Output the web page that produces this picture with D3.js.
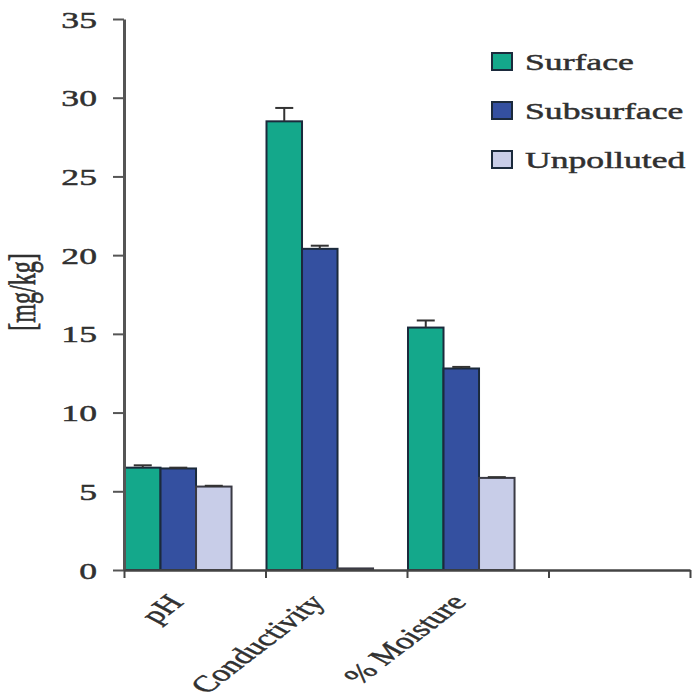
<!DOCTYPE html>
<html>
<head>
<meta charset="utf-8">
<script src="https://cdn.jsdelivr.net/npm/d3@7/dist/d3.min.js"></script>
<style>
  html, body { margin: 0; padding: 0; background: #fff; }
  svg { display: block; }
  text { font-family: "Liberation Serif", "Times New Roman", serif; fill: #303030; stroke: #303030; stroke-width: 0.45px; }
</style>
</head>
<body>
<svg id="chart" width="696" height="697"></svg>
<script>
// Soil parameters by sampling site
const categories = ["pH", "Conductivity", "% Moisture", ""];
const seriesNames = ["Surface", "Subsurface", "Unpolluted"];
const surface = [6.5, 28.5, 15.4, null];
const subsurface = [6.45, 20.4, 12.8, null];
const unpolluted = [5.3, 0.1, 5.85, null];
const surfaceErr = [0.15, 0.85, 0.45, null];
const subsurfaceErr = [0.05, 0.2, 0.1, null];
const unpollutedErr = [0.05, 0.02, 0.05, null];
const yTicks = [0, 5, 10, 15, 20, 25, 30, 35];
const yLabel = "[mg/kg]";

const colors = ["#14a88b", "#3450a0", "#c8cde8"];
const values = [surface, subsurface, unpolluted];
const errors = [surfaceErr, subsurfaceErr, unpollutedErr];

const svg = d3.select("#chart");
const stretch = 1.55;          // wide lettering
const plotLeft = 124, plotRight = 690, plotTop = 19, plotBottom = 570;

const y = d3.scaleLinear().domain([0, 35]).range([plotBottom, plotTop]);
const x = d3.scaleBand().domain(categories).range([plotLeft, plotRight]).padding(0);
const xs = d3.scaleBand().domain(seriesNames)
  .range([1, x.bandwidth() * 0.76]).padding(0);
const edge = d3.scaleLinear().domain([0, categories.length]).range([plotLeft, plotRight]);

// bars
const rows = [];
categories.forEach((c, i) => {
  seriesNames.forEach((s, j) => {
    if (values[j][i] != null) rows.push({ c, s, j, v: values[j][i], e: errors[j][i] });
  });
});

const g = svg.append("g");
g.selectAll("rect.bar").data(rows).join("rect")
  .attr("class", "bar")
  .attr("x", d => x(d.c) + xs(d.s))
  .attr("y", d => y(d.v))
  .attr("width", xs.bandwidth())
  .attr("height", d => y(0) - y(d.v))
  .attr("fill", d => colors[d.j])
  .attr("stroke", d => d.j === 2 ? "#3a3a44" : "#1b2a3c")
  .attr("stroke-width", 2);

// error bars
const eb = g.selectAll("g.err").data(rows.filter(d => d.e > 0.04)).join("g").attr("class", "err");
eb.append("line")
  .attr("x1", d => x(d.c) + xs(d.s) + xs.bandwidth() / 2)
  .attr("x2", d => x(d.c) + xs(d.s) + xs.bandwidth() / 2)
  .attr("y1", d => y(d.v))
  .attr("y2", d => y(d.v + d.e))
  .attr("stroke", "#333").attr("stroke-width", 2);
eb.append("line")
  .attr("x1", d => x(d.c) + xs(d.s) + xs.bandwidth() / 2 - 9)
  .attr("x2", d => x(d.c) + xs(d.s) + xs.bandwidth() / 2 + 9)
  .attr("y1", d => y(d.v + d.e))
  .attr("y2", d => y(d.v + d.e))
  .attr("stroke", "#333").attr("stroke-width", 2);

// y axis
const yAxis = svg.append("g").attr("transform", `translate(${plotLeft},0)`)
  .call(d3.axisLeft(y).tickValues(yTicks).tickSize(11).tickSizeOuter(0).tickPadding(0).tickFormat(() => ""));
yAxis.select(".domain").attr("stroke", "#555").attr("stroke-width", 3);
yAxis.selectAll(".tick line").attr("stroke", "#555").attr("stroke-width", 2);
yAxis.selectAll(".tick").append("text")
  .attr("transform", `translate(-27,8) scale(${stretch},1)`)
  .attr("text-anchor", "end")
  .attr("font-size", 23)
  .text(d => d);

// x axis
const xAxis = svg.append("g").attr("transform", `translate(0,${plotBottom})`)
  .call(d3.axisBottom(edge).tickValues(d3.range(categories.length + 1)).tickSize(8).tickSizeOuter(0).tickFormat(() => ""));
xAxis.select(".domain").attr("stroke", "#444").attr("stroke-width", 2.5);
xAxis.selectAll(".tick line").attr("stroke", "#444").attr("stroke-width", 2);

svg.append("g").selectAll("text").data(categories.filter(c => c)).join("text")
  .attr("transform", d => `translate(${x(d) + x.bandwidth() / 2 - 10},603) scale(${stretch},1) rotate(-50)`)
  .attr("text-anchor", "end")
  .attr("font-size", 23)
  .text(d => d);

// y label
svg.append("text")
  .attr("transform", `translate(35,292) scale(${stretch},1) rotate(-90)`)
  .attr("text-anchor", "middle")
  .attr("font-size", 24)
  .text(yLabel);

// legend
const legend = svg.append("g").attr("transform", "translate(492,53)");
const item = legend.selectAll("g").data(seriesNames).join("g")
  .attr("transform", (d, i) => `translate(0,${i * 49})`);
item.append("rect")
  .attr("width", 20).attr("height", 17)
  .attr("fill", (d, i) => colors[i])
  .attr("stroke", "#1b2a3c").attr("stroke-width", 2);
item.append("text")
  .attr("transform", `translate(33,17) scale(${stretch},1)`)
  .attr("font-size", 23)
  .text(d => d);
</script>
</body>
</html>
